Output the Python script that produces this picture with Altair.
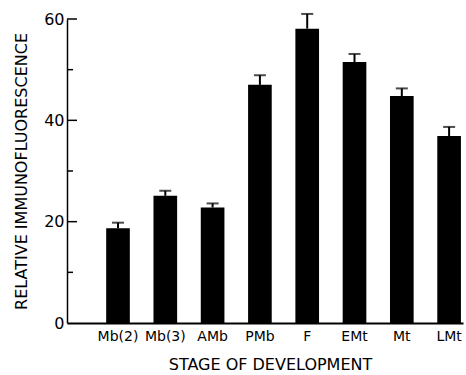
import altair as alt
import pandas as pd

stages = ["Mb(2)", "Mb(3)", "AMb", "PMb", "F", "EMt", "Mt", "LMt"]
means = [18.7, 25.1, 22.8, 47.0, 58.1, 51.5, 44.8, 36.9]
sems = [1.1, 1.0, 0.8, 1.9, 2.9, 1.6, 1.5, 1.8]
major_ticks = [20, 40, 60]
minor_ticks = [10, 30, 50]
y_labels = [0, 20, 40, 60]

df = pd.DataFrame({"stage": stages, "mean": means, "sem": sems})
df["upper"] = df["mean"] + df["sem"]

FONT = "DejaVu Sans"

xscale = alt.Scale(domain=stages, paddingInner=0.5, paddingOuter=0.436, align=0.95)
yscale = alt.Scale(domain=[0, 60], nice=False)

x = alt.X("stage:N", scale=xscale, sort=stages,
          axis=alt.Axis(title="STAGE OF DEVELOPMENT", labelAngle=0, ticks=False,
                        domainColor="black", domainWidth=2, labelColor="black",
                        labelFont=FONT, labelFontSize=14, labelPadding=6,
                        titleFont=FONT, titleFontSize=16, titleFontWeight="normal",
                        titleColor="black", titlePadding=13, titleX=203))
y = alt.Y("mean:Q", scale=yscale,
          axis=alt.Axis(title="RELATIVE IMMUNOFLUORESCENCE", values=y_labels, ticks=False,
                        grid=False, domainColor="black", domainWidth=1.5,
                        labelColor="black", labelFont=FONT, labelFontSize=16,
                        labelPadding=3, titleFont=FONT, titleFontSize=16,
                        titleFontWeight="normal", titleColor="black", titlePadding=14))

base = alt.Chart(df)
bars = base.mark_bar(color="black").encode(x=x, y=y)
err = base.mark_rule(color="black", strokeWidth=2).encode(
    x=alt.X("stage:N", scale=xscale, sort=stages),
    y=alt.Y("mean:Q", scale=yscale), y2="upper:Q")
caps = base.mark_tick(color="black", size=12, thickness=2).encode(
    x=alt.X("stage:N", scale=xscale, sort=stages),
    y=alt.Y("upper:Q", scale=yscale))

maj = alt.Chart(pd.DataFrame({"t": major_ticks})).mark_rule(color="black", strokeWidth=1.5).encode(
    y=alt.Y("t:Q", scale=yscale), x=alt.value(0), x2=alt.value(10))
mnr = alt.Chart(pd.DataFrame({"t": minor_ticks})).mark_rule(color="black", strokeWidth=1.5).encode(
    y=alt.Y("t:Q", scale=yscale), x=alt.value(0), x2=alt.value(6))

chart = alt.layer(bars, err, caps, maj, mnr).properties(
    width=396, height=304,
    autosize=alt.AutoSizeParams(type="none"),
    padding={"left": 67, "top": 19, "right": 3, "bottom": 52},
    background="white",
).configure_view(stroke=None)

chart.save("out.html", embed_options={"renderer": "svg", "actions": False})
